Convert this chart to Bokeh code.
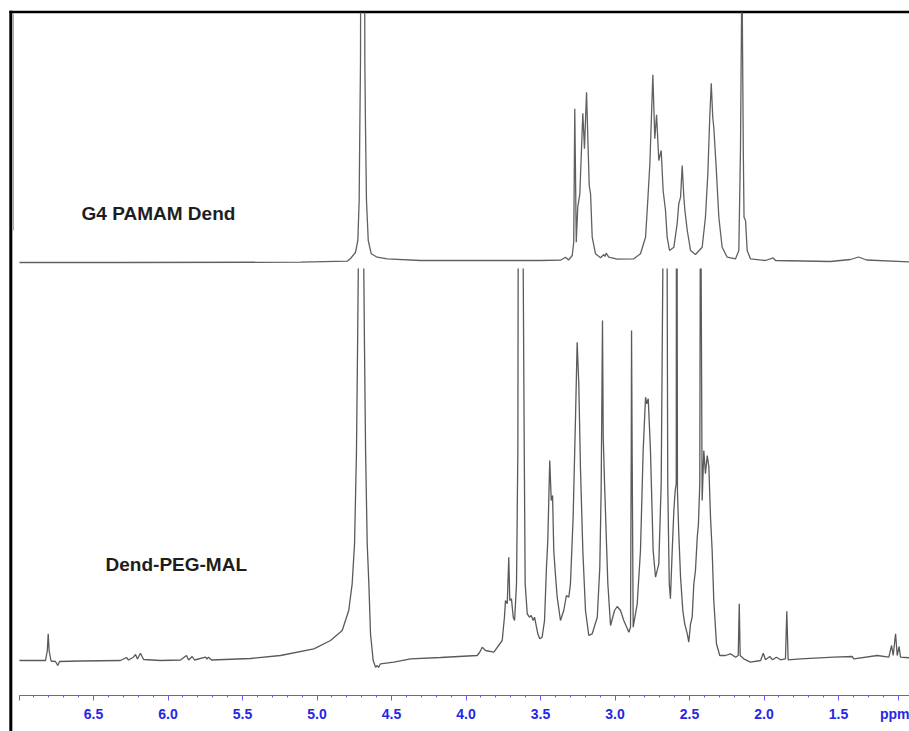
import math
from bokeh.plotting import figure
from bokeh.models import Range1d, LinearAxis, FixedTicker, Label
from bokeh.embed import file_html
from bokeh.resources import INLINE

# ---------------- data (ppm, intensity above each spectrum's baseline) ----------------
top_ppm = [6.997, 6.319, 5.111, 4.797, 4.775, 4.742, 4.726, 4.717, 4.713, 4.708, 4.693,
           4.679, 4.674, 4.668, 4.656, 4.636, 4.596, 4.529, 4.305, 3.768, 3.500, 3.366,
           3.332, 3.312, 3.287, 3.277, 3.270, 3.260, 3.250, 3.236, 3.216, 3.205, 3.191,
           3.180, 3.173, 3.164, 3.153, 3.131, 3.097, 3.075, 3.067, 3.059, 3.042, 2.985,
           2.874, 2.829, 2.795, 2.780, 2.766, 2.746, 2.733, 2.721, 2.706, 2.690, 2.677,
           2.661, 2.650, 2.634, 2.605, 2.583, 2.572, 2.560, 2.549, 2.538, 2.532, 2.515,
           2.493, 2.460, 2.415, 2.393, 2.377, 2.364, 2.354, 2.344, 2.337, 2.321, 2.303,
           2.281, 2.247, 2.191, 2.169, 2.158, 2.148, 2.139, 2.134, 2.124, 2.113, 2.091,
           1.990, 1.938, 1.923, 1.554, 1.419, 1.366, 1.312, 1.023]
top_int = [0, 0, 0.3, 1.3, 4, 10, 22, 62, 129, 202, 1500,
           202, 129, 62, 22, 8.7, 5.3, 3.7, 2, 2, 2, 2.3,
           5.3, 2.5, 7, 20.3, 153.7, 20.3, 55.3, 68.7, 149.3, 113.7, 170.3,
           112, 77, 68.7, 25.3, 8.7, 4.7, 8, 6, 9.3, 5.3, 3.3,
           3.7, 8.7, 25.3, 62, 98.7, 187.7, 123.7, 147.7, 102, 112, 72,
           52, 25.3, 12, 15.3, 38.7, 58.7, 65.3, 97, 65.3, 53.7, 32,
           12, 8, 15.3, 45.3, 88.7, 145.3, 179.3, 145.3, 135.3, 95.3, 45.3,
           15.3, 5.3, 3.7, 12, 112, 300, 112, 45.3, 42, 12, 3.7,
           2, 4.7, 2, 1, 3, 5.5, 2.5, 0.5]

bot_ppm = [6.997, 6.822, 6.810, 6.804, 6.798, 6.785, 6.755, 6.740, 6.728, 6.587, 6.319,
           6.279, 6.265, 6.232, 6.218, 6.205, 6.185, 6.164, 6.050, 5.916, 5.876, 5.862,
           5.838, 5.822, 5.748, 5.738, 5.728, 5.708, 5.446, 5.245, 5.021, 4.909, 4.831,
           4.787, 4.764, 4.748, 4.735, 4.728, 4.723, 4.705, 4.686, 4.681, 4.674, 4.663,
           4.652, 4.641, 4.623, 4.607, 4.596, 4.587, 4.574, 4.485, 4.372, 4.171, 3.925,
           3.909, 3.891, 3.869, 3.813, 3.757, 3.742, 3.735, 3.723, 3.713, 3.706, 3.695,
           3.683, 3.674, 3.661, 3.652, 3.650, 3.633, 3.616, 3.609, 3.603, 3.589, 3.574,
           3.562, 3.549, 3.540, 3.527, 3.518, 3.505, 3.489, 3.473, 3.460, 3.451, 3.438,
           3.428, 3.419, 3.411, 3.401, 3.388, 3.366, 3.344, 3.326, 3.310, 3.299, 3.281,
           3.265, 3.254, 3.243, 3.232, 3.216, 3.198, 3.176, 3.153, 3.119, 3.102, 3.093,
           3.089, 3.084, 3.079, 3.070, 3.057, 3.048, 3.030, 3.003, 2.985, 2.963, 2.941,
           2.907, 2.896, 2.891, 2.889, 2.885, 2.878, 2.851, 2.829, 2.811, 2.795, 2.787,
           2.777, 2.762, 2.744, 2.728, 2.706, 2.690, 2.679, 2.664, 2.650, 2.646, 2.636,
           2.628, 2.616, 2.605, 2.596, 2.589, 2.588, 2.585, 2.583, 2.581, 2.572, 2.560,
           2.545, 2.532, 2.515, 2.505, 2.493, 2.482, 2.471, 2.460, 2.448, 2.440, 2.431,
           2.428, 2.425, 2.422, 2.415, 2.404, 2.393, 2.381, 2.370, 2.359, 2.348, 2.337,
           2.319, 2.297, 2.258, 2.225, 2.191, 2.173, 2.166, 2.160, 2.136, 2.091, 2.023,
           2.005, 1.990, 1.961, 1.943, 1.916, 1.889, 1.856, 1.847, 1.838, 1.755, 1.532,
           1.408, 1.397, 1.240, 1.162, 1.144, 1.133, 1.117, 1.106, 1.093, 1.084, 1.023]
bot_int = [-2, -2, 8, 24.7, 8, -2.5, -3, -7, -3, -2.5, -2,
           1, -1.5, 1.3, 4, -0.5, 5.3, -1, -2, -1.5, 3, -1.5,
           2, -1.5, 1.3, -0.5, 1.3, -1.5, 0, 3, 9.7, 18, 28,
           48, 74.7, 114.7, 208, 308, 388, 2000, 388, 308, 208, 114.7,
           74.7, 24.7, -2, -8.7, -7, -9, -5.3, -3.7, -0.3, 1, 3,
           6, 11.3, 8, 6.3, 18, 41.3, 58, 54.7, 101.3, 58, 59.7,
           41.3, 38, 74.7, 208, 388, 2000, 388, 208, 74.7, 44.7, 41.3,
           43, 38, 41.3, 31.3, 24.7, 19.7, 21.3, 38, 91.3, 118, 198,
           158, 163, 108, 86.3, 61.3, 38, 48, 63, 61.3, 74.7, 141.3,
           241.3, 316.3, 274.7, 191.3, 108, 48, 23, 24.7, 41.3, 91.3, 168,
           241.3, 338, 221.3, 174.7, 114.7, 74.7, 33, 48, 52, 48, 38,
           26.3, 31.3, 208, 328, 208, 31.3, 54.7, 108, 208, 261.3, 254.7,
           259.7, 208, 108, 81.3, 94.7, 174.7, 388, 1500, 388, 175, 75,
           59.7, 108, 148, 168, 175, 388, 800, 388, 168, 125, 81.3,
           48, 34.7, 24.7, 16.3, 34.7, 41.3, 74.7, 88, 121.3, 134.7, 174.7,
           388, 800, 388, 158, 208, 184.7, 203, 191.3, 141.3, 108, 58,
           14.7, 3, 3, 4.7, 1.3, 3, 54.7, 3, -0.3, -3.7, -2,
           5.3, -1.3, 2, -1.3, 1.3, -1.3, -0.3, 47.3, -1.3, -0.3, 1.3,
           2, -0.3, 3, 1.3, 13, 3, 24.7, 3, 12, 1.3, 0.7]

spectrum_names = ["G4 PAMAM Dend", "Dend-PEG-MAL"]
tick_ppm = [7.0, 6.5, 6.0, 5.5, 5.0, 4.5, 4.0, 3.5, 3.0, 2.5, 2.0, 1.5, 1.1]
tick_labels = ["", "6.5", "6.0", "5.5", "5.0", "4.5", "4.0", "3.5", "3.0", "2.5", "2.0", "1.5", "ppm"]
minor_ppm = [round(7.0 - 0.1 * i, 1) for i in range(60)]

# ---------------- layout constants ----------------
TOP_BASE = 433.0     # vertical offset of the upper trace
BOT_BASE = 37.0      # vertical offset of the lower trace
TOP_CLIP = 250.0     # upper trace cut at the frame line
BOT_CLIP = 390.0     # lower trace cut below the upper trace


def clip_trace(xs, ys, lim, base):
    ox, oy = [], []
    for i, (x, y) in enumerate(zip(xs, ys)):
        if i > 0:
            xp, yp = xs[i - 1], ys[i - 1]
            if (yp <= lim) != (y <= lim):
                t = (lim - yp) / (y - yp)
                ox.append(xp + t * (x - xp))
                oy.append(lim + base)
                if y > lim:
                    ox.append(math.nan)
                    oy.append(math.nan)
        if y <= lim:
            ox.append(x)
            oy.append(y + base)
    return ox, oy


p = figure(width=909, height=731, output_backend="svg", toolbar_location=None,
           x_range=Range1d(7.1242, 1.0235), y_range=Range1d(-36, 695),
           x_axis_type=None, y_axis_type=None,
           min_border_left=0, min_border_right=0, min_border_top=0, min_border_bottom=0)
p.outline_line_color = None
p.grid.visible = False
p.background_fill_color = "white"
p.border_fill_color = "white"

# picture border (left and top)
p.segment(x0=[7.055, 7.064], y0=[-40, 683.5], x1=[7.055, 0.9], y1=[684.7, 683.5],
          line_color="black", line_width=[3, 2.5])

# upper spectrum
tx, ty = clip_trace(top_ppm, top_int, TOP_CLIP, TOP_BASE)
p.line(tx, ty, line_color="#606060", line_width=1.3)

# lower spectrum
bx, by = clip_trace(bot_ppm, bot_int, BOT_CLIP, BOT_BASE)
p.line(bx, by, line_color="#5a5a5a", line_width=1.3)

# faint vertical line near left edge
p.segment(x0=[7.037], y0=[465], x1=[7.037], y1=[682], line_color="#aaaaaa", line_width=1)

# labels
p.add_layout(Label(x=6.58, y=482, text=spectrum_names[0], text_font="Liberation Sans",
                   text_font_style="bold", text_font_size="19px", text_color="#1e1e1e",
                   text_baseline="middle"))
p.add_layout(Label(x=6.419, y=131, text=spectrum_names[1], text_font="Liberation Sans",
                   text_font_style="bold", text_font_size="19px", text_color="#1e1e1e",
                   text_baseline="middle"))

# ppm axis
ax = LinearAxis(ticker=FixedTicker(ticks=tick_ppm, minor_ticks=minor_ppm))
ax.fixed_location = 0
ax.major_label_overrides = {t: l for t, l in zip(tick_ppm, tick_labels)}
ax.axis_line_color = "#5c5cff"
ax.axis_line_width = 1.2
ax.major_tick_line_color = "#5c5cff"
ax.minor_tick_line_color = "#5c5cff"
ax.major_tick_out = 5
ax.major_tick_in = 0
ax.minor_tick_out = 2
ax.minor_tick_in = 0
ax.major_label_standoff = 5
ax.major_label_text_color = "#2626e6"
ax.major_label_text_font = "Liberation Sans"
ax.major_label_text_font_style = "bold"
ax.major_label_text_font_size = "14px"
ax.bounds = (0.9, 7.0)
p.add_layout(ax, "below")

open("out.html", "w").write(file_html(p, INLINE))
